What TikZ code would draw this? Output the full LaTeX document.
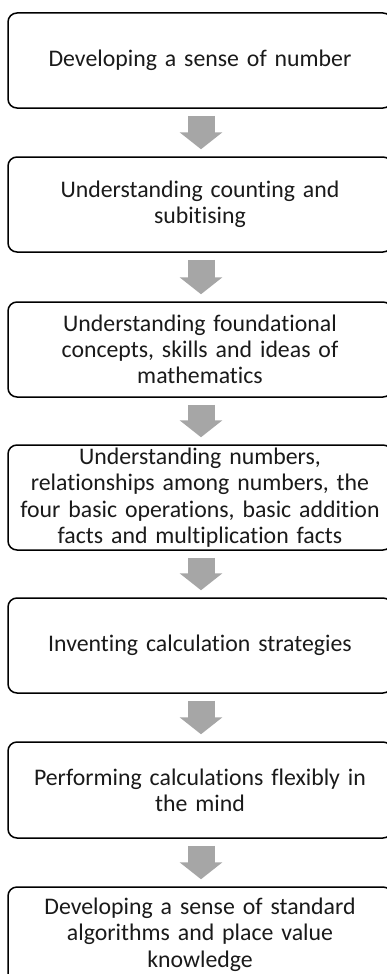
\documentclass[tikz,border=0pt]{standalone}
\usepackage{fontspec}
\setmainfont{Carlito}[Ligatures=NoCommon]
\usetikzlibrary{arrows.meta}
\definecolor{arrowgray}{HTML}{A6A6A6}
\definecolor{txt}{HTML}{1A1A1A}
\tikzset{
  stepbox/.style={draw=black, line width=1.5pt, rounded corners=9pt, fill=white,
    minimum width=384pt, text width=380pt, align=center, inner sep=0pt,
    font=\fontsize{23.8pt}{26.3pt}\selectfont, text=txt},
  flowarrow/.style={draw=arrowgray, line width=27pt,
    -{Triangle[width=42pt,length=17pt]}, shorten <=7pt, shorten >=7pt}
}
\begin{document}
\begin{tikzpicture}[x=1pt,y=-1pt]
\useasboundingbox (0,0) rectangle (386,974);
\fill[white] (0,0) rectangle (386,974);
\node[stepbox, minimum height=95pt] (b1) at (200,60.5) {Developing a sense of number};
\node[stepbox, minimum height=95pt] (b2) at (200,204.5) {Understanding counting and\\subitising};
\node[stepbox, minimum height=95pt] (b3) at (200,349.5) {Understanding foundational\\concepts, skills and ideas of\\mathematics};
\node[stepbox, minimum height=105pt] (b4) at (200,497.5) {Understanding numbers,\\relationships among numbers, the\\four basic operations, basic addition\\facts and multiplication facts};
\node[stepbox, minimum height=95pt] (b5) at (200,645.5) {Inventing calculation strategies};
\node[stepbox, minimum height=96pt] (b6) at (200,790) {Performing calculations flexibly in\\the mind};
\node[stepbox, minimum height=95pt] (b7) at (200,934.5) {Developing a sense of standard\\algorithms and place value\\knowledge};
\draw[flowarrow] ([xshift=1pt]b1.south) -- ([xshift=1pt]b2.north);
\draw[flowarrow] ([xshift=1pt]b2.south) -- ([xshift=1pt]b3.north);
\draw[flowarrow] ([xshift=1pt]b3.south) -- ([xshift=1pt]b4.north);
\draw[flowarrow] ([xshift=1pt]b4.south) -- ([xshift=1pt]b5.north);
\draw[flowarrow] ([xshift=1pt]b5.south) -- ([xshift=1pt]b6.north);
\draw[flowarrow] ([xshift=1pt]b6.south) -- ([xshift=1pt]b7.north);
\end{tikzpicture}
\end{document}
